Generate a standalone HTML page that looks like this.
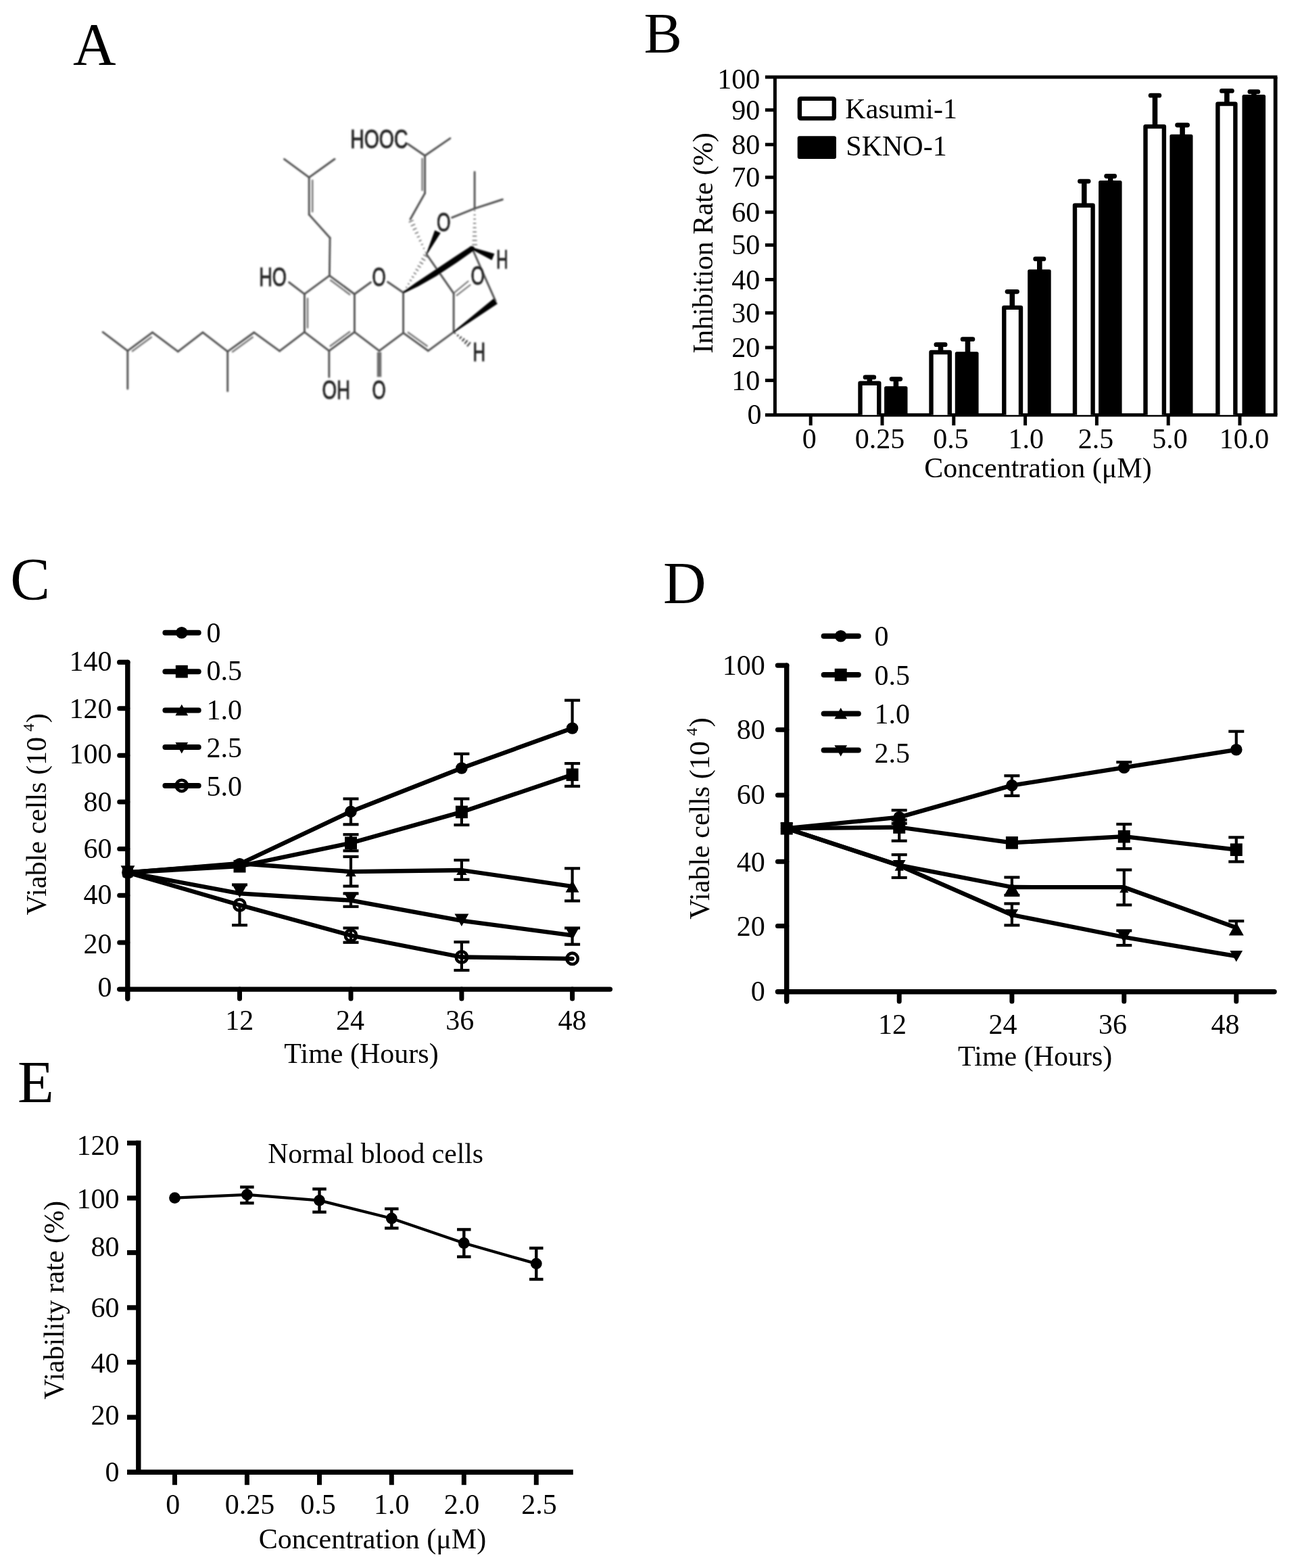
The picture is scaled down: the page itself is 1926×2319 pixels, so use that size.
<!DOCTYPE html>
<html lang="en">
<head>
<meta charset="utf-8">
<title>Figure: compound structure, inhibition rate, viable cells and viability rate</title>
<style>
html,body{margin:0;padding:0;background:#fff;}
body{width:1926px;height:2319px;overflow:hidden;}
svg{display:block;}
.se{font-family:"Liberation Serif", "DejaVu Serif", serif;}
.sa{font-family:"Liberation Sans", "DejaVu Sans", sans-serif;}
</style>
</head>
<body>
<svg width="1926" height="2319" viewBox="0 0 1926 2319">
<defs>
<filter id="soft" x="-5%" y="-5%" width="110%" height="110%"><feGaussianBlur stdDeviation="0.9"/></filter>
<filter id="soft2" x="-2%" y="-2%" width="104%" height="104%"><feGaussianBlur stdDeviation="0.55"/></filter>
</defs>
<rect x="0" y="0" width="1926" height="2319" fill="#fff"/>
<g filter="url(#soft2)">
<g id="panel-labels">
<text class="se" x="108" y="94.5" font-size="88" text-anchor="start" fill="#000">A</text>
<text class="se" x="952.5" y="78.3" font-size="84.5" text-anchor="start" fill="#000">B</text>
<text class="se" x="15.3" y="886.3" font-size="88" text-anchor="start" fill="#000">C</text>
<text class="se" x="981" y="892" font-size="88" text-anchor="start" fill="#000">D</text>
<text class="se" x="26" y="1630" font-size="88" text-anchor="start" fill="#000">E</text>
</g>
<g id="panel-b">
<line x1="1131.9" y1="114" x2="1889.5" y2="114" stroke="#000" stroke-width="5" stroke-linecap="butt"/>
<line x1="1131.9" y1="613.7" x2="1889.5" y2="613.7" stroke="#000" stroke-width="5" stroke-linecap="butt"/>
<line x1="1146.4" y1="114" x2="1146.4" y2="613.7" stroke="#000" stroke-width="5" stroke-linecap="butt"/>
<line x1="1886.7" y1="114" x2="1886.7" y2="613.7" stroke="#000" stroke-width="5.8" stroke-linecap="butt"/>
<line x1="1131.9" y1="162.7" x2="1146.4" y2="162.7" stroke="#000" stroke-width="5" stroke-linecap="butt"/>
<line x1="1131.9" y1="213.8" x2="1146.4" y2="213.8" stroke="#000" stroke-width="5" stroke-linecap="butt"/>
<line x1="1131.9" y1="262.2" x2="1146.4" y2="262.2" stroke="#000" stroke-width="5" stroke-linecap="butt"/>
<line x1="1131.9" y1="313.8" x2="1146.4" y2="313.8" stroke="#000" stroke-width="5" stroke-linecap="butt"/>
<line x1="1131.9" y1="362.4" x2="1146.4" y2="362.4" stroke="#000" stroke-width="5" stroke-linecap="butt"/>
<line x1="1131.9" y1="413.5" x2="1146.4" y2="413.5" stroke="#000" stroke-width="5" stroke-linecap="butt"/>
<line x1="1131.9" y1="462.8" x2="1146.4" y2="462.8" stroke="#000" stroke-width="5" stroke-linecap="butt"/>
<line x1="1131.9" y1="514" x2="1146.4" y2="514" stroke="#000" stroke-width="5" stroke-linecap="butt"/>
<line x1="1131.9" y1="562.6" x2="1146.4" y2="562.6" stroke="#000" stroke-width="5" stroke-linecap="butt"/>
<text class="se" x="1124.2" y="131" font-size="42" text-anchor="end" fill="#000">100</text>
<text class="se" x="1124.2" y="176.7" font-size="42" text-anchor="end" fill="#000">90</text>
<text class="se" x="1124.2" y="227.8" font-size="42" text-anchor="end" fill="#000">80</text>
<text class="se" x="1124.2" y="276.2" font-size="42" text-anchor="end" fill="#000">70</text>
<text class="se" x="1124.2" y="327.8" font-size="42" text-anchor="end" fill="#000">60</text>
<text class="se" x="1124.2" y="376.4" font-size="42" text-anchor="end" fill="#000">50</text>
<text class="se" x="1124.2" y="427.5" font-size="42" text-anchor="end" fill="#000">40</text>
<text class="se" x="1124.2" y="476.8" font-size="42" text-anchor="end" fill="#000">30</text>
<text class="se" x="1124.2" y="528" font-size="42" text-anchor="end" fill="#000">20</text>
<text class="se" x="1124.2" y="576.6" font-size="42" text-anchor="end" fill="#000">10</text>
<text class="se" x="1126.4" y="626.5" font-size="42" text-anchor="end" fill="#000">0</text>
<line x1="1199.2" y1="613.7" x2="1199.2" y2="629.2" stroke="#000" stroke-width="5" stroke-linecap="butt"/>
<text class="se" x="1197.3" y="663" font-size="42" text-anchor="middle" fill="#000">0</text>
<line x1="1305" y1="613.7" x2="1305" y2="629.2" stroke="#000" stroke-width="5" stroke-linecap="butt"/>
<text class="se" x="1301.6" y="663" font-size="42" text-anchor="middle" fill="#000">0.25</text>
<line x1="1410.8" y1="613.7" x2="1410.8" y2="629.2" stroke="#000" stroke-width="5" stroke-linecap="butt"/>
<text class="se" x="1406.5" y="663" font-size="42" text-anchor="middle" fill="#000">0.5</text>
<line x1="1516.6" y1="613.7" x2="1516.6" y2="629.2" stroke="#000" stroke-width="5" stroke-linecap="butt"/>
<text class="se" x="1517.8" y="663" font-size="42" text-anchor="middle" fill="#000">1.0</text>
<line x1="1622.4" y1="613.7" x2="1622.4" y2="629.2" stroke="#000" stroke-width="5" stroke-linecap="butt"/>
<text class="se" x="1621" y="663" font-size="42" text-anchor="middle" fill="#000">2.5</text>
<line x1="1728.2" y1="613.7" x2="1728.2" y2="629.2" stroke="#000" stroke-width="5" stroke-linecap="butt"/>
<text class="se" x="1730.5" y="663" font-size="42" text-anchor="middle" fill="#000">5.0</text>
<line x1="1834" y1="613.7" x2="1834" y2="629.2" stroke="#000" stroke-width="5" stroke-linecap="butt"/>
<text class="se" x="1840.6" y="663" font-size="42" text-anchor="middle" fill="#000">10.0</text>
<text class="se" x="1535.5" y="705.9" font-size="42" text-anchor="middle" fill="#000">Concentration (μM)</text>
<text class="se" transform="translate(1053.5 359.5) rotate(-90)" font-size="42" text-anchor="middle">Inhibition Rate (%)</text>
<rect x="1182.9" y="145.9" width="50.9" height="29.2" fill="#fff" stroke="#000" stroke-width="6.4" rx="1.5"/>
<rect x="1179.7" y="201.2" width="57.3" height="33.9" fill="#000" stroke="none" stroke-width="0" rx="3"/>
<text class="se" x="1250.3" y="174.8" font-size="42" text-anchor="start" fill="#000">Kasumi-1</text>
<text class="se" x="1251.3" y="229.9" font-size="42" text-anchor="start" fill="#000">SKNO-1</text>
<path d="M 1272.5 613.7 V 566.8 H 1300.3 V 613.7" fill="#fff" stroke="#000" stroke-width="6.4" stroke-linejoin="round"/>
<line x1="1286.4" y1="557.9" x2="1286.4" y2="565.6" stroke="#000" stroke-width="7.6" stroke-linecap="butt"/>
<line x1="1280.05" y1="557.9" x2="1292.75" y2="557.9" stroke="#000" stroke-width="6.8" stroke-linecap="round"/>
<path d="M 1377.5 613.7 V 521 H 1404.8 V 613.7" fill="#fff" stroke="#000" stroke-width="6.4" stroke-linejoin="round"/>
<line x1="1391.5" y1="509.7" x2="1391.5" y2="519.8" stroke="#000" stroke-width="7.6" stroke-linecap="butt"/>
<line x1="1384.9" y1="509.7" x2="1398.1" y2="509.7" stroke="#000" stroke-width="6.8" stroke-linecap="round"/>
<path d="M 1485.3 613.7 V 454.9 H 1510 V 613.7" fill="#fff" stroke="#000" stroke-width="6.4" stroke-linejoin="round"/>
<line x1="1497.3" y1="431.3" x2="1497.3" y2="453.7" stroke="#000" stroke-width="7.6" stroke-linecap="butt"/>
<line x1="1490.05" y1="431.3" x2="1504.55" y2="431.3" stroke="#000" stroke-width="6.8" stroke-linecap="round"/>
<path d="M 1590 613.7 V 303.8 H 1616.6 V 613.7" fill="#fff" stroke="#000" stroke-width="6.4" stroke-linejoin="round"/>
<line x1="1603.8" y1="268.1" x2="1603.8" y2="302.6" stroke="#000" stroke-width="7.6" stroke-linecap="butt"/>
<line x1="1597.45" y1="268.1" x2="1610.15" y2="268.1" stroke="#000" stroke-width="6.8" stroke-linecap="round"/>
<path d="M 1694.5 613.7 V 187.1 H 1721.9 V 613.7" fill="#fff" stroke="#000" stroke-width="6.4" stroke-linejoin="round"/>
<line x1="1708.5" y1="141.2" x2="1708.5" y2="185.9" stroke="#000" stroke-width="7.6" stroke-linecap="butt"/>
<line x1="1702.15" y1="141.2" x2="1714.85" y2="141.2" stroke="#000" stroke-width="6.8" stroke-linecap="round"/>
<path d="M 1801.4 613.7 V 153.6 H 1827.4 V 613.7" fill="#fff" stroke="#000" stroke-width="6.4" stroke-linejoin="round"/>
<line x1="1814.9" y1="134.4" x2="1814.9" y2="152.4" stroke="#000" stroke-width="7.6" stroke-linecap="butt"/>
<line x1="1807.4" y1="134.4" x2="1822.4" y2="134.4" stroke="#000" stroke-width="6.8" stroke-linecap="round"/>
<rect x="1308.1" y="571.2" width="34.4" height="42.5" fill="#000" stroke="none" stroke-width="0" rx="2.5"/>
<line x1="1325.4" y1="560.6" x2="1325.4" y2="573.2" stroke="#000" stroke-width="7.6" stroke-linecap="butt"/>
<line x1="1319.05" y1="560.6" x2="1331.75" y2="560.6" stroke="#000" stroke-width="6.8" stroke-linecap="round"/>
<rect x="1412.8" y="520.3" width="34.8" height="93.4" fill="#000" stroke="none" stroke-width="0" rx="2.5"/>
<line x1="1431.5" y1="501.7" x2="1431.5" y2="522.3" stroke="#000" stroke-width="7.6" stroke-linecap="butt"/>
<line x1="1424.1" y1="501.7" x2="1438.9" y2="501.7" stroke="#000" stroke-width="6.8" stroke-linecap="round"/>
<rect x="1520.2" y="398.5" width="34.5" height="215.2" fill="#000" stroke="none" stroke-width="0" rx="2.5"/>
<line x1="1537.8" y1="382.9" x2="1537.8" y2="400.5" stroke="#000" stroke-width="7.6" stroke-linecap="butt"/>
<line x1="1531.7" y1="382.9" x2="1543.9" y2="382.9" stroke="#000" stroke-width="6.8" stroke-linecap="round"/>
<rect x="1625.1" y="266.9" width="34.5" height="346.8" fill="#000" stroke="none" stroke-width="0" rx="2.5"/>
<line x1="1642.7" y1="260.5" x2="1642.7" y2="268.9" stroke="#000" stroke-width="7.6" stroke-linecap="butt"/>
<line x1="1636.7" y1="260.5" x2="1648.7" y2="260.5" stroke="#000" stroke-width="6.8" stroke-linecap="round"/>
<rect x="1730.4" y="198.8" width="34.1" height="414.9" fill="#000" stroke="none" stroke-width="0" rx="2.5"/>
<line x1="1749.1" y1="185" x2="1749.1" y2="200.8" stroke="#000" stroke-width="7.6" stroke-linecap="butt"/>
<line x1="1741.6" y1="185" x2="1756.6" y2="185" stroke="#000" stroke-width="6.8" stroke-linecap="round"/>
<rect x="1837.5" y="140.1" width="34.6" height="473.6" fill="#000" stroke="none" stroke-width="0" rx="2.5"/>
<line x1="1854.9" y1="135.7" x2="1854.9" y2="142.1" stroke="#000" stroke-width="7.6" stroke-linecap="butt"/>
<line x1="1848.9" y1="135.7" x2="1860.9" y2="135.7" stroke="#000" stroke-width="6.8" stroke-linecap="round"/>
</g>
<g id="panel-c">
<line x1="188.8" y1="979.4" x2="188.8" y2="1477" stroke="#000" stroke-width="7.4" stroke-linecap="round"/>
<line x1="176.7" y1="1463.1" x2="902.4" y2="1463.1" stroke="#000" stroke-width="7.4" stroke-linecap="round"/>
<line x1="176.7" y1="979.4" x2="188.8" y2="979.4" stroke="#000" stroke-width="7.4" stroke-linecap="round"/>
<line x1="176.7" y1="1047.8" x2="188.8" y2="1047.8" stroke="#000" stroke-width="7" stroke-linecap="round"/>
<line x1="176.7" y1="1117.2" x2="188.8" y2="1117.2" stroke="#000" stroke-width="7" stroke-linecap="round"/>
<line x1="176.7" y1="1186" x2="188.8" y2="1186" stroke="#000" stroke-width="7" stroke-linecap="round"/>
<line x1="176.7" y1="1255.5" x2="188.8" y2="1255.5" stroke="#000" stroke-width="7" stroke-linecap="round"/>
<line x1="176.7" y1="1324.3" x2="188.8" y2="1324.3" stroke="#000" stroke-width="7" stroke-linecap="round"/>
<line x1="176.7" y1="1393.9" x2="188.8" y2="1393.9" stroke="#000" stroke-width="7" stroke-linecap="round"/>
<text class="se" x="165.4" y="992" font-size="42" text-anchor="end" fill="#000">140</text>
<text class="se" x="165.4" y="1062" font-size="42" text-anchor="end" fill="#000">120</text>
<text class="se" x="165.4" y="1128.7" font-size="42" text-anchor="end" fill="#000">100</text>
<text class="se" x="165.4" y="1200.2" font-size="42" text-anchor="end" fill="#000">80</text>
<text class="se" x="165.4" y="1268.6" font-size="42" text-anchor="end" fill="#000">60</text>
<text class="se" x="165.4" y="1337.4" font-size="42" text-anchor="end" fill="#000">40</text>
<text class="se" x="165.4" y="1410" font-size="42" text-anchor="end" fill="#000">20</text>
<text class="se" x="165.4" y="1474.2" font-size="42" text-anchor="end" fill="#000">0</text>
<line x1="354.5" y1="1463.1" x2="354.5" y2="1477" stroke="#000" stroke-width="7" stroke-linecap="round"/>
<line x1="519" y1="1463.1" x2="519" y2="1477" stroke="#000" stroke-width="7" stroke-linecap="round"/>
<line x1="682.9" y1="1463.1" x2="682.9" y2="1477" stroke="#000" stroke-width="7" stroke-linecap="round"/>
<line x1="846.6" y1="1463.1" x2="846.6" y2="1477" stroke="#000" stroke-width="7" stroke-linecap="round"/>
<text class="se" x="354.2" y="1523.4" font-size="42" text-anchor="middle" fill="#000">12</text>
<text class="se" x="517.9" y="1523.4" font-size="42" text-anchor="middle" fill="#000">24</text>
<text class="se" x="680.2" y="1523.4" font-size="42" text-anchor="middle" fill="#000">36</text>
<text class="se" x="846.6" y="1523.4" font-size="42" text-anchor="middle" fill="#000">48</text>
<text class="se" x="534.5" y="1571.7" font-size="42" text-anchor="middle" fill="#000">Time (Hours)</text>
<text class="se" transform="translate(67.7 1204.3) rotate(-90)" font-size="42" text-anchor="middle">Viable cells (10<tspan font-size="24" dy="-18" dx="8">4</tspan><tspan dy="18" dx="1">)</tspan></text>
<line x1="244.4" y1="935.8" x2="293.7" y2="935.8" stroke="#000" stroke-width="8" stroke-linecap="round"/>
<circle cx="268.8" cy="935.8" r="8.8" fill="#000" stroke="none" stroke-width="0"/>
<text class="se" x="305.5" y="949.6" font-size="42" text-anchor="start" fill="#000">0</text>
<line x1="244.4" y1="993.2" x2="293.7" y2="993.2" stroke="#000" stroke-width="8" stroke-linecap="round"/>
<rect x="259.8" y="983.9" width="18" height="18.6" fill="#000" stroke="none" stroke-width="0" rx="0"/>
<text class="se" x="305.5" y="1006.4" font-size="42" text-anchor="start" fill="#000">0.5</text>
<line x1="244.4" y1="1050.5" x2="293.7" y2="1050.5" stroke="#000" stroke-width="8" stroke-linecap="round"/>
<polygon points="268.8,1041.65 278.15,1058.22 259.45,1058.22" fill="#000" stroke="none" stroke-width="0" stroke-linejoin="round"/>
<text class="se" x="305.5" y="1064.3" font-size="42" text-anchor="start" fill="#000">1.0</text>
<line x1="244.4" y1="1105.1" x2="293.7" y2="1105.1" stroke="#000" stroke-width="8" stroke-linecap="round"/>
<polygon points="268.8,1114.45 278.15,1097.88 259.45,1097.88" fill="#000" stroke="none" stroke-width="0" stroke-linejoin="round"/>
<text class="se" x="305.5" y="1120.3" font-size="42" text-anchor="start" fill="#000">2.5</text>
<line x1="244.4" y1="1161.9" x2="293.7" y2="1161.9" stroke="#000" stroke-width="8" stroke-linecap="round"/>
<circle cx="268.8" cy="1161.9" r="8.2" fill="none" stroke="#000" stroke-width="4.6"/>
<text class="se" x="305.5" y="1176.8" font-size="42" text-anchor="start" fill="#000">5.0</text>
<line x1="354.5" y1="1338.5" x2="354.5" y2="1368.3" stroke="#000" stroke-width="4.2" stroke-linecap="butt"/>
<line x1="343" y1="1368.3" x2="366" y2="1368.3" stroke="#000" stroke-width="4.2" stroke-linecap="butt"/>
<line x1="519" y1="1372.5" x2="519" y2="1393.8" stroke="#000" stroke-width="4.2" stroke-linecap="butt"/>
<line x1="507.5" y1="1372.5" x2="530.5" y2="1372.5" stroke="#000" stroke-width="4.2" stroke-linecap="butt"/>
<line x1="507.5" y1="1393.8" x2="530.5" y2="1393.8" stroke="#000" stroke-width="4.2" stroke-linecap="butt"/>
<line x1="682.9" y1="1393.2" x2="682.9" y2="1435" stroke="#000" stroke-width="4.2" stroke-linecap="butt"/>
<line x1="671.4" y1="1393.2" x2="694.4" y2="1393.2" stroke="#000" stroke-width="4.2" stroke-linecap="butt"/>
<line x1="671.4" y1="1435" x2="694.4" y2="1435" stroke="#000" stroke-width="4.2" stroke-linecap="butt"/>
<line x1="354.5" y1="1308.5" x2="354.5" y2="1321" stroke="#000" stroke-width="4.2" stroke-linecap="butt"/>
<line x1="343" y1="1308.5" x2="366" y2="1308.5" stroke="#000" stroke-width="4.2" stroke-linecap="butt"/>
<line x1="519" y1="1321.5" x2="519" y2="1340.8" stroke="#000" stroke-width="4.2" stroke-linecap="butt"/>
<line x1="507.5" y1="1321.5" x2="530.5" y2="1321.5" stroke="#000" stroke-width="4.2" stroke-linecap="butt"/>
<line x1="507.5" y1="1340.8" x2="530.5" y2="1340.8" stroke="#000" stroke-width="4.2" stroke-linecap="butt"/>
<line x1="846.6" y1="1372.5" x2="846.6" y2="1396.7" stroke="#000" stroke-width="4.2" stroke-linecap="butt"/>
<line x1="835.1" y1="1372.5" x2="858.1" y2="1372.5" stroke="#000" stroke-width="4.2" stroke-linecap="butt"/>
<line x1="835.1" y1="1396.7" x2="858.1" y2="1396.7" stroke="#000" stroke-width="4.2" stroke-linecap="butt"/>
<line x1="519" y1="1267" x2="519" y2="1310.6" stroke="#000" stroke-width="4.2" stroke-linecap="butt"/>
<line x1="507.5" y1="1267" x2="530.5" y2="1267" stroke="#000" stroke-width="4.2" stroke-linecap="butt"/>
<line x1="507.5" y1="1310.6" x2="530.5" y2="1310.6" stroke="#000" stroke-width="4.2" stroke-linecap="butt"/>
<line x1="682.9" y1="1272.1" x2="682.9" y2="1300.8" stroke="#000" stroke-width="4.2" stroke-linecap="butt"/>
<line x1="671.4" y1="1272.1" x2="694.4" y2="1272.1" stroke="#000" stroke-width="4.2" stroke-linecap="butt"/>
<line x1="671.4" y1="1300.8" x2="694.4" y2="1300.8" stroke="#000" stroke-width="4.2" stroke-linecap="butt"/>
<line x1="846.6" y1="1284.3" x2="846.6" y2="1332.4" stroke="#000" stroke-width="4.2" stroke-linecap="butt"/>
<line x1="835.1" y1="1284.3" x2="858.1" y2="1284.3" stroke="#000" stroke-width="4.2" stroke-linecap="butt"/>
<line x1="835.1" y1="1332.4" x2="858.1" y2="1332.4" stroke="#000" stroke-width="4.2" stroke-linecap="butt"/>
<line x1="519" y1="1234.2" x2="519" y2="1258.3" stroke="#000" stroke-width="4.2" stroke-linecap="butt"/>
<line x1="507.5" y1="1234.2" x2="530.5" y2="1234.2" stroke="#000" stroke-width="4.2" stroke-linecap="butt"/>
<line x1="507.5" y1="1258.3" x2="530.5" y2="1258.3" stroke="#000" stroke-width="4.2" stroke-linecap="butt"/>
<line x1="682.9" y1="1181.4" x2="682.9" y2="1220.1" stroke="#000" stroke-width="4.2" stroke-linecap="butt"/>
<line x1="671.4" y1="1181.4" x2="694.4" y2="1181.4" stroke="#000" stroke-width="4.2" stroke-linecap="butt"/>
<line x1="671.4" y1="1220.1" x2="694.4" y2="1220.1" stroke="#000" stroke-width="4.2" stroke-linecap="butt"/>
<line x1="846.6" y1="1129.1" x2="846.6" y2="1162.8" stroke="#000" stroke-width="4.2" stroke-linecap="butt"/>
<line x1="835.1" y1="1129.1" x2="858.1" y2="1129.1" stroke="#000" stroke-width="4.2" stroke-linecap="butt"/>
<line x1="835.1" y1="1162.8" x2="858.1" y2="1162.8" stroke="#000" stroke-width="4.2" stroke-linecap="butt"/>
<line x1="519" y1="1181.4" x2="519" y2="1219.3" stroke="#000" stroke-width="4.2" stroke-linecap="butt"/>
<line x1="507.5" y1="1181.4" x2="530.5" y2="1181.4" stroke="#000" stroke-width="4.2" stroke-linecap="butt"/>
<line x1="507.5" y1="1219.3" x2="530.5" y2="1219.3" stroke="#000" stroke-width="4.2" stroke-linecap="butt"/>
<line x1="682.9" y1="1114.9" x2="682.9" y2="1136" stroke="#000" stroke-width="4.2" stroke-linecap="butt"/>
<line x1="671.4" y1="1114.9" x2="694.4" y2="1114.9" stroke="#000" stroke-width="4.2" stroke-linecap="butt"/>
<line x1="846.6" y1="1035.7" x2="846.6" y2="1077" stroke="#000" stroke-width="4.2" stroke-linecap="butt"/>
<line x1="835.1" y1="1035.7" x2="858.1" y2="1035.7" stroke="#000" stroke-width="4.2" stroke-linecap="butt"/>
<polyline points="189,1290.4 354.5,1338.5 519,1383.5 682.9,1415.5 846.6,1417.8" fill="none" stroke="#000" stroke-width="6.3" stroke-linejoin="round" stroke-linecap="round"/>
<polyline points="189,1290.4 354.5,1321.3 519,1331.7 682.9,1361.6 846.6,1383.3" fill="none" stroke="#000" stroke-width="6.3" stroke-linejoin="round" stroke-linecap="round"/>
<polyline points="189,1290.4 354.5,1277 519,1289.2 682.9,1287 846.6,1311" fill="none" stroke="#000" stroke-width="6.3" stroke-linejoin="round" stroke-linecap="round"/>
<polyline points="189,1290.4 354.5,1281.2 519,1246.8 682.9,1200.9 846.6,1145.8" fill="none" stroke="#000" stroke-width="6.3" stroke-linejoin="round" stroke-linecap="round"/>
<polyline points="189,1290.4 354.5,1277.8 519,1200.2 682.9,1136 846.6,1077" fill="none" stroke="#000" stroke-width="6.3" stroke-linejoin="round" stroke-linecap="round"/>
<circle cx="354.5" cy="1338.5" r="8.2" fill="none" stroke="#000" stroke-width="4.6"/>
<circle cx="519" cy="1383.5" r="8.2" fill="none" stroke="#000" stroke-width="4.6"/>
<circle cx="682.9" cy="1415.5" r="8.2" fill="none" stroke="#000" stroke-width="4.6"/>
<circle cx="846.6" cy="1417.8" r="8.2" fill="none" stroke="#000" stroke-width="4.6"/>
<polygon points="189,1298.85 199.45,1280.33 178.55,1280.33" fill="#000" stroke="none" stroke-width="0" stroke-linejoin="round"/>
<polygon points="354.5,1327.75 364.95,1309.22 344.05,1309.22" fill="#000" stroke="none" stroke-width="0" stroke-linejoin="round"/>
<polygon points="519,1338.15 529.45,1319.62 508.55,1319.62" fill="#000" stroke="none" stroke-width="0" stroke-linejoin="round"/>
<polygon points="682.9,1370.05 693.35,1351.52 672.45,1351.52" fill="#000" stroke="none" stroke-width="0" stroke-linejoin="round"/>
<polygon points="846.6,1389.75 857.05,1371.22 836.15,1371.22" fill="#000" stroke="none" stroke-width="0" stroke-linejoin="round"/>
<polygon points="189,1283.7 196.7,1297.35 181.3,1297.35" fill="#000" stroke="none" stroke-width="0" stroke-linejoin="round"/>
<polygon points="354.5,1270.3 362.2,1283.95 346.8,1283.95" fill="#000" stroke="none" stroke-width="0" stroke-linejoin="round"/>
<polygon points="519,1282.5 526.7,1296.15 511.3,1296.15" fill="#000" stroke="none" stroke-width="0" stroke-linejoin="round"/>
<polygon points="682.9,1280.3 690.6,1293.95 675.2,1293.95" fill="#000" stroke="none" stroke-width="0" stroke-linejoin="round"/>
<polygon points="846.6,1302.1 856.5,1319.65 836.7,1319.65" fill="#000" stroke="none" stroke-width="0" stroke-linejoin="round"/>
<rect x="180.8" y="1281.8" width="16.4" height="17.2" fill="#000" stroke="none" stroke-width="0" rx="5"/>
<rect x="345.5" y="1271.9" width="18" height="18.6" fill="#000" stroke="none" stroke-width="0" rx="0"/>
<rect x="510" y="1237.5" width="18" height="18.6" fill="#000" stroke="none" stroke-width="0" rx="0"/>
<rect x="673.9" y="1191.6" width="18" height="18.6" fill="#000" stroke="none" stroke-width="0" rx="0"/>
<rect x="837.6" y="1136.5" width="18" height="18.6" fill="#000" stroke="none" stroke-width="0" rx="0"/>
<circle cx="189" cy="1290.4" r="8.8" fill="#000" stroke="none" stroke-width="0"/>
<circle cx="354.5" cy="1277.8" r="8.8" fill="#000" stroke="none" stroke-width="0"/>
<circle cx="519" cy="1200.2" r="8.8" fill="#000" stroke="none" stroke-width="0"/>
<circle cx="682.9" cy="1136" r="8.8" fill="#000" stroke="none" stroke-width="0"/>
<circle cx="846.6" cy="1077" r="8.8" fill="#000" stroke="none" stroke-width="0"/>
</g>
<g id="panel-d">
<line x1="1163.7" y1="984.1" x2="1163.7" y2="1481" stroke="#000" stroke-width="7.4" stroke-linecap="round"/>
<line x1="1150.4" y1="1466.8" x2="1885.1" y2="1466.8" stroke="#000" stroke-width="7.4" stroke-linecap="round"/>
<line x1="1150.4" y1="984.1" x2="1163.7" y2="984.1" stroke="#000" stroke-width="7.4" stroke-linecap="round"/>
<line x1="1150.4" y1="1079.3" x2="1163.7" y2="1079.3" stroke="#000" stroke-width="7" stroke-linecap="round"/>
<line x1="1150.4" y1="1176.1" x2="1163.7" y2="1176.1" stroke="#000" stroke-width="7" stroke-linecap="round"/>
<line x1="1150.4" y1="1274.3" x2="1163.7" y2="1274.3" stroke="#000" stroke-width="7" stroke-linecap="round"/>
<line x1="1150.4" y1="1369.5" x2="1163.7" y2="1369.5" stroke="#000" stroke-width="7" stroke-linecap="round"/>
<text class="se" x="1131.8" y="998" font-size="42" text-anchor="end" fill="#000">100</text>
<text class="se" x="1131.8" y="1092.6" font-size="42" text-anchor="end" fill="#000">80</text>
<text class="se" x="1131.8" y="1189.4" font-size="42" text-anchor="end" fill="#000">60</text>
<text class="se" x="1131.8" y="1288.5" font-size="42" text-anchor="end" fill="#000">40</text>
<text class="se" x="1131.8" y="1384.4" font-size="42" text-anchor="end" fill="#000">20</text>
<text class="se" x="1131.8" y="1480.4" font-size="42" text-anchor="end" fill="#000">0</text>
<line x1="1330.2" y1="1466.8" x2="1330.2" y2="1481" stroke="#000" stroke-width="7" stroke-linecap="round"/>
<line x1="1496.9" y1="1466.8" x2="1496.9" y2="1481" stroke="#000" stroke-width="7" stroke-linecap="round"/>
<line x1="1662.8" y1="1466.8" x2="1662.8" y2="1481" stroke="#000" stroke-width="7" stroke-linecap="round"/>
<line x1="1828.8" y1="1466.8" x2="1828.8" y2="1481" stroke="#000" stroke-width="7" stroke-linecap="round"/>
<text class="se" x="1320" y="1528.8" font-size="42" text-anchor="middle" fill="#000">12</text>
<text class="se" x="1483.5" y="1528.8" font-size="42" text-anchor="middle" fill="#000">24</text>
<text class="se" x="1646" y="1528.8" font-size="42" text-anchor="middle" fill="#000">36</text>
<text class="se" x="1812.4" y="1528.8" font-size="42" text-anchor="middle" fill="#000">48</text>
<text class="se" x="1531.2" y="1576" font-size="42" text-anchor="middle" fill="#000">Time (Hours)</text>
<text class="se" transform="translate(1049.4 1210.5) rotate(-90)" font-size="42" text-anchor="middle">Viable cells (10<tspan font-size="24" dy="-18" dx="8">4</tspan><tspan dy="18" dx="1">)</tspan></text>
<line x1="1218.6" y1="940.8" x2="1269.8" y2="940.8" stroke="#000" stroke-width="8" stroke-linecap="round"/>
<circle cx="1243.7" cy="940.8" r="8.8" fill="#000" stroke="none" stroke-width="0"/>
<text class="se" x="1293.6" y="955" font-size="42" text-anchor="start" fill="#000">0</text>
<line x1="1218.6" y1="998.1" x2="1269.8" y2="998.1" stroke="#000" stroke-width="8" stroke-linecap="round"/>
<rect x="1234.7" y="988.8" width="18" height="18.6" fill="#000" stroke="none" stroke-width="0" rx="0"/>
<text class="se" x="1293.6" y="1012.8" font-size="42" text-anchor="start" fill="#000">0.5</text>
<line x1="1218.6" y1="1055.5" x2="1269.8" y2="1055.5" stroke="#000" stroke-width="8" stroke-linecap="round"/>
<polygon points="1243.7,1046.65 1253.05,1063.22 1234.35,1063.22" fill="#000" stroke="none" stroke-width="0" stroke-linejoin="round"/>
<text class="se" x="1293.6" y="1070.1" font-size="42" text-anchor="start" fill="#000">1.0</text>
<line x1="1218.6" y1="1109.4" x2="1269.8" y2="1109.4" stroke="#000" stroke-width="8" stroke-linecap="round"/>
<polygon points="1243.7,1118.75 1253.05,1102.18 1234.35,1102.18" fill="#000" stroke="none" stroke-width="0" stroke-linejoin="round"/>
<text class="se" x="1293.6" y="1128.2" font-size="42" text-anchor="start" fill="#000">2.5</text>
<line x1="1496.9" y1="1336.4" x2="1496.9" y2="1368.4" stroke="#000" stroke-width="4.2" stroke-linecap="butt"/>
<line x1="1485.4" y1="1336.4" x2="1508.4" y2="1336.4" stroke="#000" stroke-width="4.2" stroke-linecap="butt"/>
<line x1="1485.4" y1="1368.4" x2="1508.4" y2="1368.4" stroke="#000" stroke-width="4.2" stroke-linecap="butt"/>
<line x1="1662.8" y1="1376.4" x2="1662.8" y2="1398.1" stroke="#000" stroke-width="4.2" stroke-linecap="butt"/>
<line x1="1651.3" y1="1376.4" x2="1674.3" y2="1376.4" stroke="#000" stroke-width="4.2" stroke-linecap="butt"/>
<line x1="1651.3" y1="1398.1" x2="1674.3" y2="1398.1" stroke="#000" stroke-width="4.2" stroke-linecap="butt"/>
<line x1="1330.2" y1="1264.1" x2="1330.2" y2="1298" stroke="#000" stroke-width="4.2" stroke-linecap="butt"/>
<line x1="1318.7" y1="1264.1" x2="1341.7" y2="1264.1" stroke="#000" stroke-width="4.2" stroke-linecap="butt"/>
<line x1="1318.7" y1="1298" x2="1341.7" y2="1298" stroke="#000" stroke-width="4.2" stroke-linecap="butt"/>
<line x1="1496.9" y1="1297.5" x2="1496.9" y2="1324" stroke="#000" stroke-width="4.2" stroke-linecap="butt"/>
<line x1="1485.4" y1="1297.5" x2="1508.4" y2="1297.5" stroke="#000" stroke-width="4.2" stroke-linecap="butt"/>
<line x1="1485.4" y1="1324" x2="1508.4" y2="1324" stroke="#000" stroke-width="4.2" stroke-linecap="butt"/>
<line x1="1662.8" y1="1286.5" x2="1662.8" y2="1338.4" stroke="#000" stroke-width="4.2" stroke-linecap="butt"/>
<line x1="1651.3" y1="1286.5" x2="1674.3" y2="1286.5" stroke="#000" stroke-width="4.2" stroke-linecap="butt"/>
<line x1="1651.3" y1="1338.4" x2="1674.3" y2="1338.4" stroke="#000" stroke-width="4.2" stroke-linecap="butt"/>
<line x1="1828.8" y1="1362.2" x2="1828.8" y2="1372" stroke="#000" stroke-width="4.2" stroke-linecap="butt"/>
<line x1="1817.3" y1="1362.2" x2="1840.3" y2="1362.2" stroke="#000" stroke-width="4.2" stroke-linecap="butt"/>
<line x1="1330.2" y1="1212.5" x2="1330.2" y2="1243.6" stroke="#000" stroke-width="4.2" stroke-linecap="butt"/>
<line x1="1318.7" y1="1212.5" x2="1341.7" y2="1212.5" stroke="#000" stroke-width="4.2" stroke-linecap="butt"/>
<line x1="1318.7" y1="1243.6" x2="1341.7" y2="1243.6" stroke="#000" stroke-width="4.2" stroke-linecap="butt"/>
<line x1="1662.8" y1="1218.9" x2="1662.8" y2="1255.1" stroke="#000" stroke-width="4.2" stroke-linecap="butt"/>
<line x1="1651.3" y1="1218.9" x2="1674.3" y2="1218.9" stroke="#000" stroke-width="4.2" stroke-linecap="butt"/>
<line x1="1651.3" y1="1255.1" x2="1674.3" y2="1255.1" stroke="#000" stroke-width="4.2" stroke-linecap="butt"/>
<line x1="1828.8" y1="1238.4" x2="1828.8" y2="1274.4" stroke="#000" stroke-width="4.2" stroke-linecap="butt"/>
<line x1="1817.3" y1="1238.4" x2="1840.3" y2="1238.4" stroke="#000" stroke-width="4.2" stroke-linecap="butt"/>
<line x1="1817.3" y1="1274.4" x2="1840.3" y2="1274.4" stroke="#000" stroke-width="4.2" stroke-linecap="butt"/>
<line x1="1330.2" y1="1198.3" x2="1330.2" y2="1217.8" stroke="#000" stroke-width="4.2" stroke-linecap="butt"/>
<line x1="1318.7" y1="1198.3" x2="1341.7" y2="1198.3" stroke="#000" stroke-width="4.2" stroke-linecap="butt"/>
<line x1="1318.7" y1="1217.8" x2="1341.7" y2="1217.8" stroke="#000" stroke-width="4.2" stroke-linecap="butt"/>
<line x1="1496.9" y1="1147.3" x2="1496.9" y2="1176.9" stroke="#000" stroke-width="4.2" stroke-linecap="butt"/>
<line x1="1485.4" y1="1147.3" x2="1508.4" y2="1147.3" stroke="#000" stroke-width="4.2" stroke-linecap="butt"/>
<line x1="1485.4" y1="1176.9" x2="1508.4" y2="1176.9" stroke="#000" stroke-width="4.2" stroke-linecap="butt"/>
<line x1="1662.8" y1="1127.2" x2="1662.8" y2="1135" stroke="#000" stroke-width="4.2" stroke-linecap="butt"/>
<line x1="1651.3" y1="1127.2" x2="1674.3" y2="1127.2" stroke="#000" stroke-width="4.2" stroke-linecap="butt"/>
<line x1="1828.8" y1="1081.7" x2="1828.8" y2="1108" stroke="#000" stroke-width="4.2" stroke-linecap="butt"/>
<line x1="1817.3" y1="1081.7" x2="1840.3" y2="1081.7" stroke="#000" stroke-width="4.2" stroke-linecap="butt"/>
<polyline points="1163.7,1225.2 1330.2,1280.2 1496.9,1353 1662.8,1386 1828.8,1414.2" fill="none" stroke="#000" stroke-width="6.3" stroke-linejoin="round" stroke-linecap="round"/>
<polyline points="1163.7,1225.2 1330.2,1279.7 1496.9,1312 1662.8,1312.2 1828.8,1372" fill="none" stroke="#000" stroke-width="6.3" stroke-linejoin="round" stroke-linecap="round"/>
<polyline points="1163.7,1225.2 1330.2,1223.5 1496.9,1246.4 1662.8,1237.2 1828.8,1256.7" fill="none" stroke="#000" stroke-width="6.3" stroke-linejoin="round" stroke-linecap="round"/>
<polyline points="1163.7,1225.2 1330.2,1208.6 1496.9,1161.6 1662.8,1135.2 1828.8,1108.8" fill="none" stroke="#000" stroke-width="6.3" stroke-linejoin="round" stroke-linecap="round"/>
<polygon points="1163.7,1233.55 1173.05,1216.98 1154.35,1216.98" fill="#000" stroke="none" stroke-width="0" stroke-linejoin="round"/>
<polygon points="1330.2,1288.55 1339.55,1271.98 1320.85,1271.98" fill="#000" stroke="none" stroke-width="0" stroke-linejoin="round"/>
<polygon points="1496.9,1361.35 1506.25,1344.78 1487.55,1344.78" fill="#000" stroke="none" stroke-width="0" stroke-linejoin="round"/>
<polygon points="1662.8,1394.35 1672.15,1377.78 1653.45,1377.78" fill="#000" stroke="none" stroke-width="0" stroke-linejoin="round"/>
<polygon points="1828.8,1422.55 1838.15,1405.98 1819.45,1405.98" fill="#000" stroke="none" stroke-width="0" stroke-linejoin="round"/>
<polygon points="1163.7,1221.6 1170.3,1233.3 1157.1,1233.3" fill="#000" stroke="none" stroke-width="0" stroke-linejoin="round"/>
<polygon points="1330.2,1276.1 1336.8,1287.8 1323.6,1287.8" fill="#000" stroke="none" stroke-width="0" stroke-linejoin="round"/>
<polygon points="1496.9,1304 1507.9,1323.5 1485.9,1323.5" fill="#000" stroke="none" stroke-width="0" stroke-linejoin="round"/>
<polygon points="1662.8,1308.6 1669.4,1320.3 1656.2,1320.3" fill="#000" stroke="none" stroke-width="0" stroke-linejoin="round"/>
<polygon points="1828.8,1364 1839.8,1383.5 1817.8,1383.5" fill="#000" stroke="none" stroke-width="0" stroke-linejoin="round"/>
<rect x="1154.7" y="1215.9" width="18" height="18.6" fill="#000" stroke="none" stroke-width="0" rx="0"/>
<rect x="1321.2" y="1214.2" width="18" height="18.6" fill="#000" stroke="none" stroke-width="0" rx="0"/>
<rect x="1487.9" y="1237.1" width="18" height="18.6" fill="#000" stroke="none" stroke-width="0" rx="0"/>
<rect x="1653.8" y="1227.9" width="18" height="18.6" fill="#000" stroke="none" stroke-width="0" rx="0"/>
<rect x="1819.8" y="1247.4" width="18" height="18.6" fill="#000" stroke="none" stroke-width="0" rx="0"/>
<circle cx="1163.7" cy="1225.2" r="8.8" fill="#000" stroke="none" stroke-width="0"/>
<circle cx="1330.2" cy="1208.6" r="8.8" fill="#000" stroke="none" stroke-width="0"/>
<circle cx="1496.9" cy="1161.6" r="8.8" fill="#000" stroke="none" stroke-width="0"/>
<circle cx="1662.8" cy="1135.2" r="8.8" fill="#000" stroke="none" stroke-width="0"/>
<circle cx="1828.8" cy="1108.8" r="8.8" fill="#000" stroke="none" stroke-width="0"/>
</g>
<g id="panel-e">
<line x1="204.8" y1="1686.8" x2="204.8" y2="2180.9" stroke="#000" stroke-width="7.4" stroke-linecap="butt"/>
<line x1="188" y1="2177.2" x2="847.8" y2="2177.2" stroke="#000" stroke-width="7.4" stroke-linecap="butt"/>
<line x1="188" y1="1690.5" x2="204.8" y2="1690.5" stroke="#000" stroke-width="7.2" stroke-linecap="butt"/>
<line x1="188" y1="1771.9" x2="204.8" y2="1771.9" stroke="#000" stroke-width="7.2" stroke-linecap="butt"/>
<line x1="188" y1="1852.6" x2="204.8" y2="1852.6" stroke="#000" stroke-width="7.2" stroke-linecap="butt"/>
<line x1="188" y1="1933.9" x2="204.8" y2="1933.9" stroke="#000" stroke-width="7.2" stroke-linecap="butt"/>
<line x1="188" y1="2014.7" x2="204.8" y2="2014.7" stroke="#000" stroke-width="7.2" stroke-linecap="butt"/>
<line x1="188" y1="2096.1" x2="204.8" y2="2096.1" stroke="#000" stroke-width="7.2" stroke-linecap="butt"/>
<text class="se" x="176.6" y="1707.7" font-size="42" text-anchor="end" fill="#000">120</text>
<text class="se" x="176.6" y="1786.8" font-size="42" text-anchor="end" fill="#000">100</text>
<text class="se" x="176.6" y="1858.4" font-size="42" text-anchor="end" fill="#000">80</text>
<text class="se" x="176.6" y="1948.2" font-size="42" text-anchor="end" fill="#000">60</text>
<text class="se" x="176.6" y="2029.6" font-size="42" text-anchor="end" fill="#000">40</text>
<text class="se" x="176.6" y="2107.2" font-size="42" text-anchor="end" fill="#000">20</text>
<text class="se" x="176.6" y="2190.6" font-size="42" text-anchor="end" fill="#000">0</text>
<line x1="258.5" y1="2177.2" x2="258.5" y2="2196.2" stroke="#000" stroke-width="7" stroke-linecap="butt"/>
<line x1="365.4" y1="2177.2" x2="365.4" y2="2196.2" stroke="#000" stroke-width="7" stroke-linecap="butt"/>
<line x1="472.5" y1="2177.2" x2="472.5" y2="2196.2" stroke="#000" stroke-width="7" stroke-linecap="butt"/>
<line x1="579.3" y1="2177.2" x2="579.3" y2="2196.2" stroke="#000" stroke-width="7" stroke-linecap="butt"/>
<line x1="686.3" y1="2177.2" x2="686.3" y2="2196.2" stroke="#000" stroke-width="7" stroke-linecap="butt"/>
<line x1="793.3" y1="2177.2" x2="793.3" y2="2196.2" stroke="#000" stroke-width="7" stroke-linecap="butt"/>
<text class="se" x="255.7" y="2239.2" font-size="42" text-anchor="middle" fill="#000">0</text>
<text class="se" x="369.4" y="2239.2" font-size="42" text-anchor="middle" fill="#000">0.25</text>
<text class="se" x="470.5" y="2239.2" font-size="42" text-anchor="middle" fill="#000">0.5</text>
<text class="se" x="579.2" y="2239.2" font-size="42" text-anchor="middle" fill="#000">1.0</text>
<text class="se" x="683" y="2239.2" font-size="42" text-anchor="middle" fill="#000">2.0</text>
<text class="se" x="797.4" y="2239.2" font-size="42" text-anchor="middle" fill="#000">2.5</text>
<text class="se" x="551" y="2289.6" font-size="42" text-anchor="middle" fill="#000">Concentration (μM)</text>
<text class="se" x="555.6" y="1720" font-size="41.6" text-anchor="middle" fill="#000">Normal blood cells</text>
<text class="se" transform="translate(94 1922.8) rotate(-90)" font-size="42" text-anchor="middle">Viability rate (%)</text>
<line x1="365.4" y1="1755.6" x2="365.4" y2="1779.3" stroke="#000" stroke-width="4.4" stroke-linecap="butt"/>
<line x1="355.15" y1="1755.6" x2="375.65" y2="1755.6" stroke="#000" stroke-width="4.4" stroke-linecap="butt"/>
<line x1="355.15" y1="1779.3" x2="375.65" y2="1779.3" stroke="#000" stroke-width="4.4" stroke-linecap="butt"/>
<line x1="472.5" y1="1758.5" x2="472.5" y2="1792.6" stroke="#000" stroke-width="4.4" stroke-linecap="butt"/>
<line x1="462.25" y1="1758.5" x2="482.75" y2="1758.5" stroke="#000" stroke-width="4.4" stroke-linecap="butt"/>
<line x1="462.25" y1="1792.6" x2="482.75" y2="1792.6" stroke="#000" stroke-width="4.4" stroke-linecap="butt"/>
<line x1="579.3" y1="1787.8" x2="579.3" y2="1816.4" stroke="#000" stroke-width="4.4" stroke-linecap="butt"/>
<line x1="569.05" y1="1787.8" x2="589.55" y2="1787.8" stroke="#000" stroke-width="4.4" stroke-linecap="butt"/>
<line x1="569.05" y1="1816.4" x2="589.55" y2="1816.4" stroke="#000" stroke-width="4.4" stroke-linecap="butt"/>
<line x1="686.3" y1="1818.4" x2="686.3" y2="1858.7" stroke="#000" stroke-width="4.4" stroke-linecap="butt"/>
<line x1="676.05" y1="1818.4" x2="696.55" y2="1818.4" stroke="#000" stroke-width="4.4" stroke-linecap="butt"/>
<line x1="676.05" y1="1858.7" x2="696.55" y2="1858.7" stroke="#000" stroke-width="4.4" stroke-linecap="butt"/>
<line x1="793.3" y1="1845.9" x2="793.3" y2="1892" stroke="#000" stroke-width="4.4" stroke-linecap="butt"/>
<line x1="783.05" y1="1845.9" x2="803.55" y2="1845.9" stroke="#000" stroke-width="4.4" stroke-linecap="butt"/>
<line x1="783.05" y1="1892" x2="803.55" y2="1892" stroke="#000" stroke-width="4.4" stroke-linecap="butt"/>
<polyline points="258.5,1771.6 365.4,1766.9 472.5,1775.4 579.3,1802 686.3,1838.5 793.3,1868.9" fill="none" stroke="#000" stroke-width="4.3" stroke-linejoin="round" stroke-linecap="round"/>
<circle cx="258.5" cy="1771.6" r="8.4" fill="#000" stroke="none" stroke-width="0"/>
<circle cx="365.4" cy="1766.9" r="8.4" fill="#000" stroke="none" stroke-width="0"/>
<circle cx="472.5" cy="1775.4" r="8.4" fill="#000" stroke="none" stroke-width="0"/>
<circle cx="579.3" cy="1802" r="8.4" fill="#000" stroke="none" stroke-width="0"/>
<circle cx="686.3" cy="1838.5" r="8.4" fill="#000" stroke="none" stroke-width="0"/>
<circle cx="793.3" cy="1868.9" r="8.4" fill="#000" stroke="none" stroke-width="0"/>
</g>
<g id="panel-a" filter="url(#soft)">
<line x1="152.1" y1="491.2" x2="188.8" y2="518.8" stroke="#525252" stroke-width="2.9" stroke-linecap="round"/>
<line x1="188.8" y1="518.8" x2="188.8" y2="575" stroke="#525252" stroke-width="2.9" stroke-linecap="round"/>
<line x1="188.8" y1="518.8" x2="225.5" y2="491.7" stroke="#525252" stroke-width="2.9" stroke-linecap="round"/>
<line x1="225.5" y1="491.7" x2="263.3" y2="519.9" stroke="#525252" stroke-width="2.9" stroke-linecap="round"/>
<line x1="263.3" y1="519.9" x2="300" y2="491.7" stroke="#525252" stroke-width="2.9" stroke-linecap="round"/>
<line x1="300" y1="491.7" x2="336.7" y2="519.9" stroke="#525252" stroke-width="2.9" stroke-linecap="round"/>
<line x1="336.7" y1="519.9" x2="336.7" y2="578.4" stroke="#525252" stroke-width="2.9" stroke-linecap="round"/>
<line x1="336.7" y1="519.9" x2="375.7" y2="491.7" stroke="#525252" stroke-width="2.9" stroke-linecap="round"/>
<line x1="375.7" y1="491.7" x2="413.6" y2="519.2" stroke="#525252" stroke-width="2.9" stroke-linecap="round"/>
<line x1="413.6" y1="519.2" x2="450.4" y2="491.2" stroke="#525252" stroke-width="2.9" stroke-linecap="round"/>
<line x1="450.4" y1="491.2" x2="450.4" y2="434.8" stroke="#525252" stroke-width="2.9" stroke-linecap="round"/>
<line x1="450.4" y1="434.8" x2="487.4" y2="407.6" stroke="#525252" stroke-width="2.9" stroke-linecap="round"/>
<line x1="487.4" y1="407.6" x2="524.4" y2="435" stroke="#525252" stroke-width="2.9" stroke-linecap="round"/>
<line x1="524.4" y1="435" x2="524.4" y2="491.2" stroke="#525252" stroke-width="2.9" stroke-linecap="round"/>
<line x1="524.4" y1="491.2" x2="486.8" y2="518.8" stroke="#525252" stroke-width="2.9" stroke-linecap="round"/>
<line x1="486.8" y1="518.8" x2="450.4" y2="491.2" stroke="#525252" stroke-width="2.9" stroke-linecap="round"/>
<line x1="596.6" y1="432.8" x2="596.6" y2="492.4" stroke="#525252" stroke-width="2.9" stroke-linecap="round"/>
<line x1="596.6" y1="492.4" x2="561" y2="518.8" stroke="#525252" stroke-width="2.9" stroke-linecap="round"/>
<line x1="561" y1="518.8" x2="524.4" y2="491.2" stroke="#525252" stroke-width="2.9" stroke-linecap="round"/>
<line x1="596.6" y1="492.4" x2="633.3" y2="518.8" stroke="#525252" stroke-width="2.9" stroke-linecap="round"/>
<line x1="633.3" y1="518.8" x2="671.1" y2="491.2" stroke="#525252" stroke-width="2.9" stroke-linecap="round"/>
<line x1="671.1" y1="491.2" x2="671.1" y2="433.9" stroke="#525252" stroke-width="2.9" stroke-linecap="round"/>
<line x1="487.4" y1="407.6" x2="488.1" y2="351.8" stroke="#525252" stroke-width="2.9" stroke-linecap="round"/>
<line x1="488.1" y1="351.8" x2="457.2" y2="317.4" stroke="#525252" stroke-width="2.9" stroke-linecap="round"/>
<line x1="457.2" y1="317.4" x2="457.2" y2="262.4" stroke="#525252" stroke-width="2.9" stroke-linecap="round"/>
<line x1="457.2" y1="262.4" x2="420.5" y2="235.3" stroke="#525252" stroke-width="2.9" stroke-linecap="round"/>
<line x1="457.2" y1="262.4" x2="495" y2="235.3" stroke="#525252" stroke-width="2.9" stroke-linecap="round"/>
<line x1="606.9" y1="324.3" x2="628.6" y2="285.8" stroke="#525252" stroke-width="2.9" stroke-linecap="round"/>
<line x1="628.6" y1="285.8" x2="628.6" y2="230.3" stroke="#525252" stroke-width="2.9" stroke-linecap="round"/>
<line x1="628.6" y1="230.3" x2="603.5" y2="213" stroke="#525252" stroke-width="2.9" stroke-linecap="round"/>
<line x1="628.6" y1="230.3" x2="665.9" y2="204.6" stroke="#525252" stroke-width="2.9" stroke-linecap="round"/>
<line x1="702.1" y1="308.3" x2="702.1" y2="254.4" stroke="#525252" stroke-width="2.9" stroke-linecap="round"/>
<line x1="702.1" y1="308.3" x2="743.4" y2="295" stroke="#525252" stroke-width="2.9" stroke-linecap="round"/>
<line x1="631" y1="376" x2="671.1" y2="433.9" stroke="#525252" stroke-width="2.9" stroke-linecap="round"/>
<line x1="698.5" y1="367.5" x2="733.1" y2="445.4" stroke="#525252" stroke-width="2.9" stroke-linecap="round"/>
<line x1="524.4" y1="435" x2="548.5" y2="417.5" stroke="#525252" stroke-width="2.9" stroke-linecap="round"/>
<line x1="573.5" y1="417" x2="596.6" y2="432.8" stroke="#525252" stroke-width="2.9" stroke-linecap="round"/>
<line x1="450.4" y1="434.8" x2="427.5" y2="417.5" stroke="#525252" stroke-width="2.9" stroke-linecap="round"/>
<line x1="486.8" y1="518.8" x2="486.8" y2="557.5" stroke="#525252" stroke-width="2.9" stroke-linecap="round"/>
<line x1="668.5" y1="321.8" x2="702.1" y2="308.3" stroke="#525252" stroke-width="2.9" stroke-linecap="round"/>
<line x1="561" y1="520.8" x2="561" y2="557.5" stroke="#707070" stroke-width="6.6" stroke-linecap="butt"/>
<line x1="672.6" y1="432.4" x2="692.5" y2="416" stroke="#777" stroke-width="2.2" stroke-linecap="round"/>
<line x1="675.6" y1="436.9" x2="695.5" y2="421.5" stroke="#777" stroke-width="2.2" stroke-linecap="round"/>
<line x1="195.94" y1="519.25" x2="223.83" y2="498.65" stroke="#777" stroke-width="2.46" stroke-linecap="round"/>
<line x1="344.08" y1="520.24" x2="373.72" y2="498.81" stroke="#777" stroke-width="2.46" stroke-linecap="round"/>
<line x1="455" y1="484.43" x2="455" y2="441.57" stroke="#777" stroke-width="2.46" stroke-linecap="round"/>
<line x1="489.1" y1="414.58" x2="517.22" y2="435.41" stroke="#777" stroke-width="2.46" stroke-linecap="round"/>
<line x1="517.17" y1="490.8" x2="488.59" y2="511.78" stroke="#777" stroke-width="2.46" stroke-linecap="round"/>
<line x1="603.81" y1="491.67" x2="631.7" y2="511.74" stroke="#777" stroke-width="2.46" stroke-linecap="round"/>
<line x1="462.2" y1="313" x2="462.2" y2="266.8" stroke="#777" stroke-width="2.46" stroke-linecap="round"/>
<line x1="624.6" y1="281.36" x2="624.6" y2="234.74" stroke="#777" stroke-width="2.46" stroke-linecap="round"/>
<line x1="598.92" y1="430.68" x2="597.41" y2="429.76" stroke="#666" stroke-width="1.5" stroke-linecap="butt"/>
<line x1="602.28" y1="425.65" x2="600.3" y2="424.45" stroke="#666" stroke-width="1.5" stroke-linecap="butt"/>
<line x1="605.64" y1="420.63" x2="603.19" y2="419.15" stroke="#666" stroke-width="1.5" stroke-linecap="butt"/>
<line x1="609" y1="415.61" x2="606.09" y2="413.84" stroke="#666" stroke-width="1.5" stroke-linecap="butt"/>
<line x1="612.36" y1="410.59" x2="608.98" y2="408.54" stroke="#666" stroke-width="1.5" stroke-linecap="butt"/>
<line x1="615.72" y1="405.57" x2="611.88" y2="403.23" stroke="#666" stroke-width="1.5" stroke-linecap="butt"/>
<line x1="619.09" y1="400.54" x2="614.77" y2="397.93" stroke="#666" stroke-width="1.5" stroke-linecap="butt"/>
<line x1="622.45" y1="395.52" x2="617.66" y2="392.62" stroke="#666" stroke-width="1.5" stroke-linecap="butt"/>
<line x1="625.81" y1="390.5" x2="620.56" y2="387.32" stroke="#666" stroke-width="1.5" stroke-linecap="butt"/>
<line x1="629.17" y1="385.48" x2="623.45" y2="382.01" stroke="#666" stroke-width="1.5" stroke-linecap="butt"/>
<line x1="632.53" y1="380.45" x2="626.35" y2="376.71" stroke="#666" stroke-width="1.5" stroke-linecap="butt"/>
<line x1="630.5" y1="372.73" x2="628.82" y2="373.52" stroke="#666" stroke-width="1.5" stroke-linecap="butt"/>
<line x1="628.15" y1="366.84" x2="625.81" y2="367.93" stroke="#666" stroke-width="1.5" stroke-linecap="butt"/>
<line x1="625.8" y1="360.94" x2="622.81" y2="362.34" stroke="#666" stroke-width="1.5" stroke-linecap="butt"/>
<line x1="623.45" y1="355.04" x2="619.8" y2="356.75" stroke="#666" stroke-width="1.5" stroke-linecap="butt"/>
<line x1="621.1" y1="349.15" x2="616.8" y2="351.15" stroke="#666" stroke-width="1.5" stroke-linecap="butt"/>
<line x1="618.75" y1="343.25" x2="613.79" y2="345.56" stroke="#666" stroke-width="1.5" stroke-linecap="butt"/>
<line x1="616.4" y1="337.35" x2="610.79" y2="339.97" stroke="#666" stroke-width="1.5" stroke-linecap="butt"/>
<line x1="614.05" y1="331.46" x2="607.78" y2="334.38" stroke="#666" stroke-width="1.5" stroke-linecap="butt"/>
<line x1="611.7" y1="325.56" x2="604.78" y2="328.79" stroke="#666" stroke-width="1.5" stroke-linecap="butt"/>
<line x1="700.93" y1="311.45" x2="703.27" y2="311.45" stroke="#666" stroke-width="1.5" stroke-linecap="butt"/>
<line x1="700.6" y1="317.75" x2="703.6" y2="317.75" stroke="#666" stroke-width="1.5" stroke-linecap="butt"/>
<line x1="700.27" y1="324.05" x2="703.93" y2="324.05" stroke="#666" stroke-width="1.5" stroke-linecap="butt"/>
<line x1="699.93" y1="330.35" x2="704.27" y2="330.35" stroke="#666" stroke-width="1.5" stroke-linecap="butt"/>
<line x1="699.6" y1="336.65" x2="704.6" y2="336.65" stroke="#666" stroke-width="1.5" stroke-linecap="butt"/>
<line x1="699.27" y1="342.95" x2="704.93" y2="342.95" stroke="#666" stroke-width="1.5" stroke-linecap="butt"/>
<line x1="698.93" y1="349.25" x2="705.27" y2="349.25" stroke="#666" stroke-width="1.5" stroke-linecap="butt"/>
<line x1="698.6" y1="355.55" x2="705.6" y2="355.55" stroke="#666" stroke-width="1.5" stroke-linecap="butt"/>
<line x1="698.27" y1="361.85" x2="705.93" y2="361.85" stroke="#666" stroke-width="1.5" stroke-linecap="butt"/>
<line x1="672.48" y1="493.65" x2="673.79" y2="492.02" stroke="#444" stroke-width="2.2" stroke-linecap="butt"/>
<line x1="676.18" y1="497.37" x2="678.22" y2="494.83" stroke="#444" stroke-width="2.2" stroke-linecap="butt"/>
<line x1="679.88" y1="501.09" x2="682.65" y2="497.65" stroke="#444" stroke-width="2.2" stroke-linecap="butt"/>
<line x1="683.59" y1="504.81" x2="687.08" y2="500.46" stroke="#444" stroke-width="2.2" stroke-linecap="butt"/>
<line x1="687.29" y1="508.53" x2="691.51" y2="503.27" stroke="#444" stroke-width="2.2" stroke-linecap="butt"/>
<line x1="690.99" y1="512.25" x2="695.95" y2="506.08" stroke="#444" stroke-width="2.2" stroke-linecap="butt"/>
<polygon points="631.67,376.33 651.76,344.6 643.24,340.4 630.33,375.67" fill="#000" stroke="none" stroke-width="0" stroke-linejoin="round"/>
<polygon points="697.94,368.89 727.54,384.87 731.46,375.13 699.06,366.11" fill="#000" stroke="none" stroke-width="0" stroke-linejoin="round"/>
<polygon points="671.69,492 735.92,449.22 730.28,441.58 670.51,490.4" fill="#000" stroke="none" stroke-width="0" stroke-linejoin="round"/>
<polygon points="597.27,433.85 619.17,423.15 645.53,408.21 675.83,388.2 700.66,370.87 696.34,364.13 671.08,380.79 640.89,400.97 615.66,417.68 595.93,431.75" fill="#000" stroke="none" stroke-width="0" stroke-linejoin="round"/>
<circle cx="698" cy="368" r="4" fill="#000" stroke="none" stroke-width="0"/>
<text class="sa" x="518.2" y="218.8" font-size="39" fill="#242424" stroke="#242424" stroke-width="1" stroke-linejoin="round" textLength="85.2" lengthAdjust="spacingAndGlyphs">HOOC</text>
<text class="sa" x="383.2" y="422.8" font-size="39" fill="#242424" stroke="#242424" stroke-width="1" stroke-linejoin="round" textLength="40.8" lengthAdjust="spacingAndGlyphs">HO</text>
<text class="sa" x="476.4" y="589.8" font-size="39" fill="#242424" stroke="#242424" stroke-width="1" stroke-linejoin="round" textLength="41.6" lengthAdjust="spacingAndGlyphs">OH</text>
<text class="sa" x="550.4" y="589.8" font-size="39" fill="#242424" stroke="#242424" stroke-width="1" stroke-linejoin="round" textLength="20.2" lengthAdjust="spacingAndGlyphs">O</text>
<text class="sa" x="550.4" y="423" font-size="39" fill="#242424" stroke="#242424" stroke-width="1" stroke-linejoin="round" textLength="20.2" lengthAdjust="spacingAndGlyphs">O</text>
<text class="sa" x="646" y="342" font-size="39" fill="#242424" stroke="#242424" stroke-width="1" stroke-linejoin="round" textLength="20.6" lengthAdjust="spacingAndGlyphs">O</text>
<text class="sa" x="696.5" y="421" font-size="39" fill="#242424" stroke="#242424" stroke-width="1" stroke-linejoin="round" textLength="20.4" lengthAdjust="spacingAndGlyphs">O</text>
<text class="sa" x="734" y="396.6" font-size="39" fill="#242424" stroke="#242424" stroke-width="1" stroke-linejoin="round" textLength="17.6" lengthAdjust="spacingAndGlyphs">H</text>
<text class="sa" x="699.6" y="533.6" font-size="39" fill="#242424" stroke="#242424" stroke-width="1" stroke-linejoin="round" textLength="18.6" lengthAdjust="spacingAndGlyphs">H</text>
</g>
</g>
</svg>
</body>
</html>
